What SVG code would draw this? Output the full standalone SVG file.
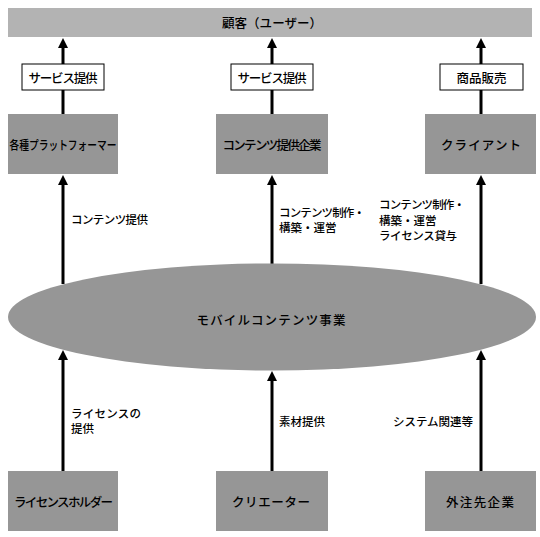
<svg xmlns="http://www.w3.org/2000/svg" width="540" height="537" viewBox="0 0 540 537">
<style>
text{font-family:"Noto Sans CJK JP","Noto Sans",sans-serif;fill:#000;font-size:12.5px;font-weight:500}
.c{text-anchor:middle;dominant-baseline:central}
.l{dominant-baseline:central;font-size:11.5px}
.g{fill:#969696}
.bar{fill:#b3b3b3}
.lb{fill:#fff;stroke:#000;stroke-width:1}
.a{stroke:#000;stroke-width:3;fill:none;marker-end:url(#ah)}
</style>
<defs>
<marker id="ah" markerUnits="userSpaceOnUse" markerWidth="10" markerHeight="10" viewBox="0 0 10 10" refX="2" refY="5" orient="auto">
<path d="M0,0 L10,5 L0,10 z" fill="#000"/>
</marker>
</defs>
<g id="connectors">
<line class="a" x1="63" y1="114" x2="63" y2="46"/>
<line class="a" x1="272" y1="114" x2="272" y2="46"/>
<line class="a" x1="481" y1="114" x2="481" y2="46"/>
<line class="a" x1="63" y1="284" x2="63" y2="183"/>
<line class="a" x1="272" y1="264" x2="272" y2="183"/>
<line class="a" x1="481" y1="284" x2="481" y2="183"/>
<line class="a" x1="63" y1="471" x2="63" y2="358"/>
<line class="a" x1="272" y1="471" x2="272" y2="379"/>
<line class="a" x1="481" y1="471" x2="481" y2="358"/>
</g>
<g id="users"><rect class="bar" x="8" y="8" width="524" height="29"/><text class="c" x="272" y="22.5" font-size="13.5" textLength="100" lengthAdjust="spacing">顧客（ユーザー）</text></g>
<g id="lbl1"><rect class="lb" x="22" y="64" width="82" height="26"/><text class="c" x="63" y="77" font-size="12" textLength="69" lengthAdjust="spacing">サービス提供</text></g>
<g id="lbl2"><rect class="lb" x="231" y="64" width="82" height="26"/><text class="c" x="272" y="77" font-size="12" textLength="69" lengthAdjust="spacing">サービス提供</text></g>
<g id="lbl3"><rect class="lb" x="440" y="64" width="83" height="26"/><text class="c" x="481.5" y="77" font-size="12.5">商品販売</text></g>
<g id="platform"><rect class="g" x="8" y="114" width="110" height="60"/><text class="c" x="63" y="144" font-size="13" textLength="107" lengthAdjust="spacingAndGlyphs">各種プラットフォーマー</text></g>
<g id="provider"><rect class="g" x="216" y="114" width="112" height="60"/><text class="c" x="272" y="144" font-size="13" textLength="99" lengthAdjust="spacing">コンテンツ提供企業</text></g>
<g id="client"><rect class="g" x="425" y="114" width="111" height="60"/><text class="c" x="481" y="144" font-size="14.5" textLength="80" lengthAdjust="spacing">クライアント</text></g>
<g id="business"><ellipse class="g" cx="272" cy="317" rx="264" ry="53.5"/><text class="c" x="271" y="319.5" font-size="14.5" textLength="149" lengthAdjust="spacing">モバイルコンテンツ事業</text></g>
<g id="holder"><rect class="g" x="8" y="471" width="110" height="60"/><text class="c" x="63.5" y="501" font-size="13" textLength="99" lengthAdjust="spacing">ライセンスホルダー</text></g>
<g id="creator"><rect class="g" x="216" y="471" width="112" height="60"/><text class="c" x="271" y="501" font-size="14.5" textLength="78" lengthAdjust="spacing">クリエーター</text></g>
<g id="outsource"><rect class="g" x="425" y="471" width="111" height="60"/><text class="c" x="480" y="501" font-size="14.5" textLength="68" lengthAdjust="spacing">外注先企業</text></g>
<g id="labels">
<text class="l" x="71" y="218.5" textLength="77" lengthAdjust="spacing">コンテンツ提供</text>
<text class="l" x="279" y="211.5" textLength="86" lengthAdjust="spacing">コンテンツ制作・</text>
<text class="l" x="279" y="226.5">構築・運営</text>
<text class="l" x="379" y="204" textLength="86" lengthAdjust="spacing">コンテンツ制作・</text>
<text class="l" x="379" y="219.5">構築・運営</text>
<text class="l" x="379" y="234.5" textLength="78" lengthAdjust="spacing">ライセンス貸与</text>
<text class="l" x="71" y="412.5" textLength="70" lengthAdjust="spacing">ライセンスの</text>
<text class="l" x="71" y="428">提供</text>
<text class="l" x="279" y="421">素材提供</text>
<text class="l" x="393" y="421" textLength="80" lengthAdjust="spacing">システム関連等</text>
</g>
</svg>
